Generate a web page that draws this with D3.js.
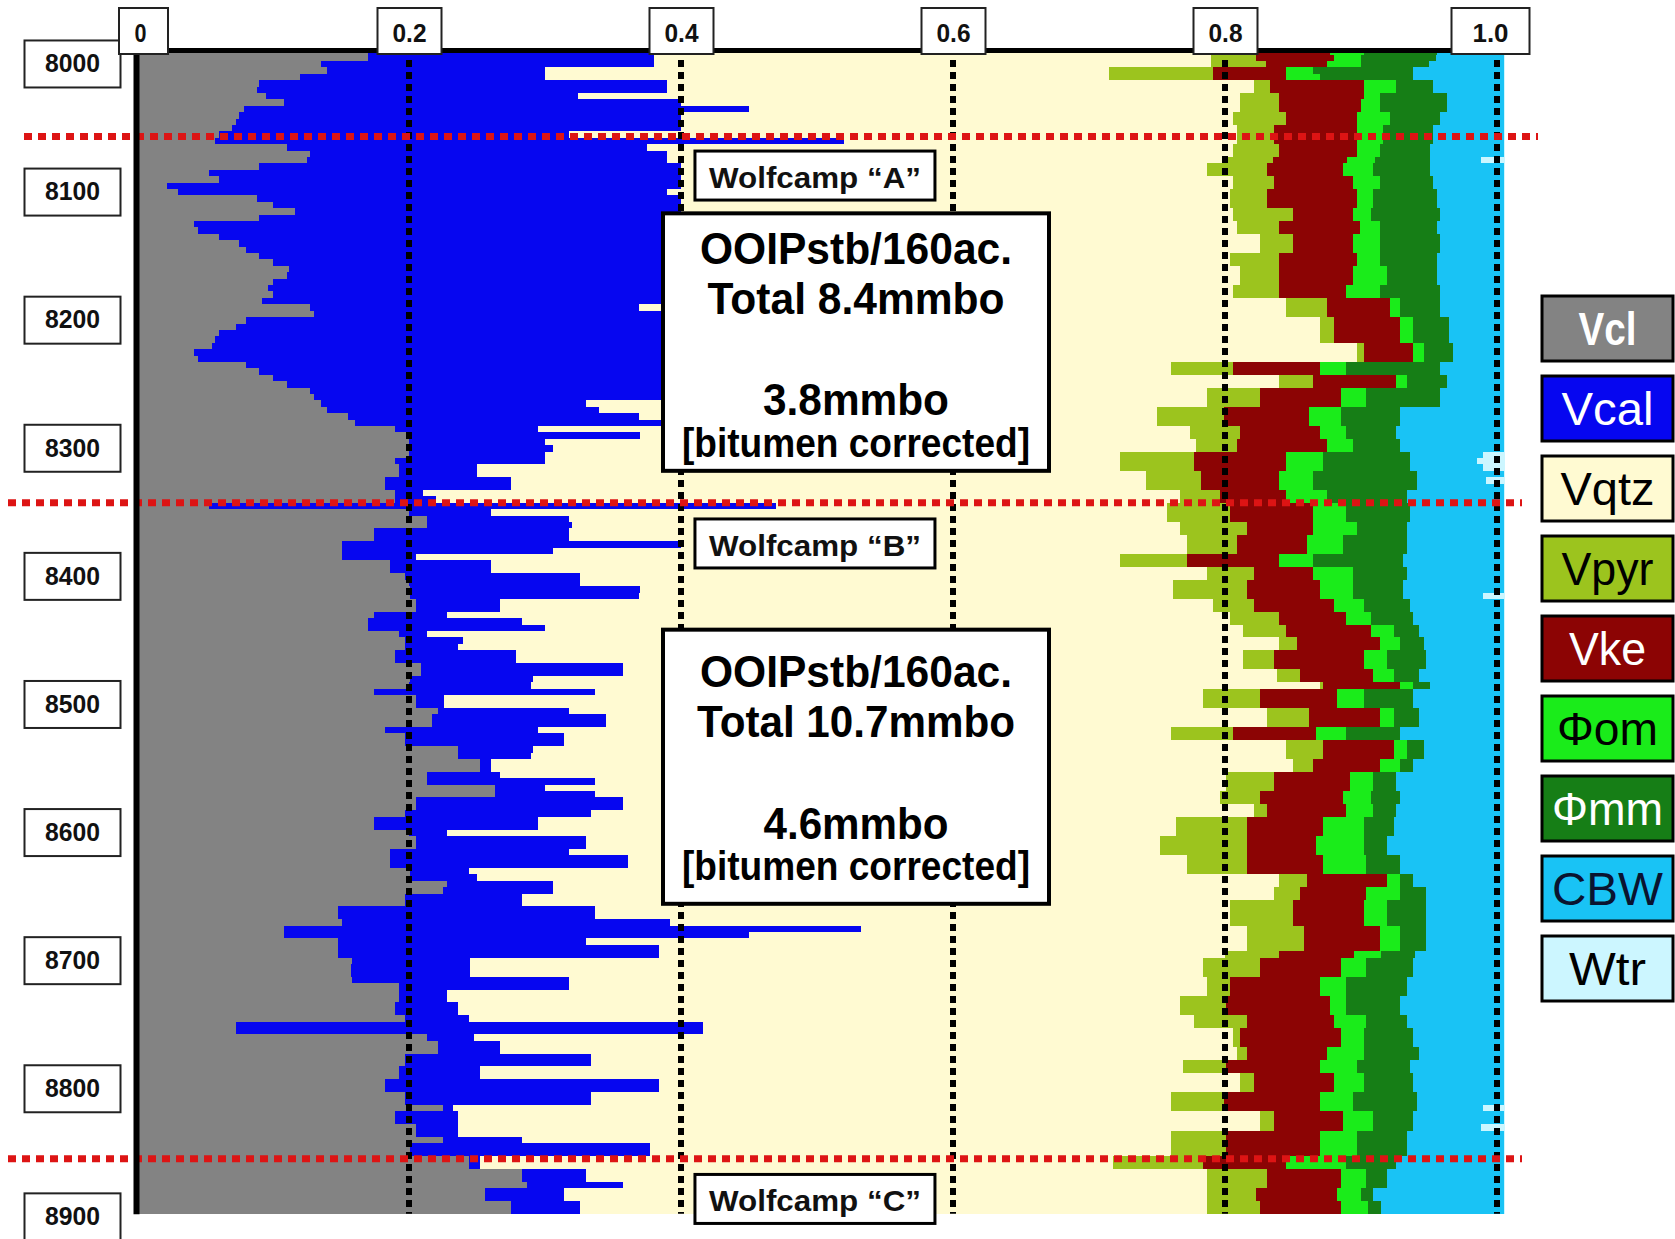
<!DOCTYPE html>
<html>
  <head>
    <meta charset="utf-8" />
    <title>Wolfcamp volumetric log</title>
    <script src="https://d3js.org/d3.v7.min.js"></script>
    <style>
      body { margin: 0; background: #fff; }
      svg text { font-family: "Liberation Sans", Arial, sans-serif; }
      .narrow { font-family: "Liberation Sans Narrow", "Arial Narrow", "Liberation Sans", sans-serif; font-weight: bold; }
    </style>
  </head>

  <body>
    <svg id="plot" width="1675" height="1239"></svg>

    <script>
      // samples every 5 ft starting at the top of the track
      const depthTop = 7988, depthStep = 5;

      // cumulative volume fractions (top of each component)
      const vclTop = [
        .17,.17,.135,.14,.12,.09,.088,.095,.108,.079,
        .075,.073,.07,.06,.057,.11,.127,.125,.09,.053,
        .06,.022,.03,.088,.10,.116,.09,.042,.045,.06,
        .075,.08,.09,.10,.112,.11,.10,.096,.10,.092,
        .127,.13,.08,.073,.06,.057,.055,.042,.045,.08,
        .09,.10,.11,.127,.13,.135,.14,.155,.16,.19,
        .20,.20,.20,.20,.19,.193,.193,.182,.182,.19,
        .19,.053,.20,.213,.213,.174,.174,.151,.151,.151,
        .186,.186,.197,.20,.201,.201,.205,.205,.174,.17,
        .17,.193,.197,.197,.19,.19,.209,.209,.201,.20,
        .174,.205,.205,.221,.217,.217,.182,.197,.197,.236,
        .236,.252,.252,.213,.213,.263,.263,.205,.205,.197,
        .174,.174,.20,.205,.205,.186,.186,.186,.201,.201,
        .228,.225,.197,.197,.148,.148,.151,.108,.108,.148,
        .148,.148,.158,.157,.157,.158,.193,.193,.193,.19,
        .19,.197,.073,.073,.213,.221,.221,.197,.197,.193,
        .193,.182,.182,.197,.197,.225,.19,.19,.205,.205,
        .225,.201,.201,.244,.244,.283,.283,.287,.256,.256,
        .275,.275
      ];
      const vcalTop = [
        .38,.38,.38,.30,.30,.39,.39,.324,.40,.45,
        .40,.40,.40,.318,.52,.375,.39,.39,.40,.40,
        .40,.40,.39,.40,.40,.40,.42,.42,.42,.42,
        .42,.42,.42,.42,.42,.42,.42,.42,.42,.42,
        .369,.42,.42,.42,.42,.42,.42,.42,.42,.42,
        .42,.42,.42,.42,.42,.33,.34,.369,.40,.295,
        .37,.30,.306,.30,.30,.25,.25,.275,.275,.21,
        .22,.47,.26,.318,.32,.318,.318,.40,.306,.205,
        .26,.26,.326,.326,.37,.369,.267,.267,.228,.283,
        .30,.213,.24,.236,.279,.279,.357,.357,.291,.29,
        .337,.226,.226,.318,.345,.345,.295,.314,.314,.291,
        .29,.26,.26,.267,.337,.30,.337,.357,.357,.334,
        .295,.295,.228,.33,.33,.318,.361,.361,.244,.25,
        .306,.306,.283,.283,.337,.337,.392,.532,.45,.33,
        .384,.384,.245,.245,.245,.318,.318,.228,.228,.236,
        .236,.244,.416,.416,.248,.267,.267,.334,.334,.252,
        .252,.384,.384,.334,.334,.232,.236,.236,.236,.236,
        .283,.377,.377,.252,.252,.33,.33,.357,.314,.314,
        .326,.326
      ];
      const vqtzTop = [
        .79,.79,.79,.715,.715,.821,.821,.811,.811,.811,
        .806,.806,.809,.809,.809,.806,.806,.80,.787,.787,
        .806,.806,.804,.804,.804,.806,.806,.809,.809,.826,
        .826,.826,.804,.804,.811,.811,.811,.806,.806,.845,
        .845,.845,.87,.87,.87,.87,.897,.897,.897,.76,
        .76,.84,.84,.787,.787,.787,.75,.75,.75,.774,
        .774,.779,.779,.723,.723,.723,.742,.742,.742,.767,
        .767,.757,.757,.757,.767,.767,.772,.772,.772,.723,
        .723,.787,.787,.762,.762,.762,.791,.791,.804,.804,
        .813,.813,.84,.84,.813,.813,.813,.838,.838,.87,
        .784,.784,.784,.831,.831,.831,.76,.76,.845,.845,
        .845,.85,.85,.801,.801,.801,.796,.796,.821,.821,
        .764,.764,.764,.752,.752,.752,.772,.772,.772,.84,
        .84,.836,.836,.804,.804,.804,.804,.816,.816,.816,
        .816,.80,.784,.784,.784,.787,.787,.787,.767,.767,
        .767,.777,.777,.806,.806,.806,.809,.809,.769,.769,
        .811,.811,.811,.76,.76,.76,.826,.826,.826,.76,
        .76,.76,.76,.718,.718,.787,.787,.787,.787,.787,
        .787,.787
      ];
      const vpyrTop = [
        .823,.823,.83,.791,.791,.833,.833,.84,.84,.84,
        .845,.845,.836,.836,.836,.84,.84,.835,.831,.831,
        .836,.836,.831,.831,.831,.85,.85,.84,.84,.85,
        .85,.85,.84,.84,.84,.84,.84,.84,.84,.875,
        .875,.875,.88,.88,.88,.88,.902,.902,.902,.806,
        .806,.865,.865,.826,.826,.826,.799,.799,.799,.811,
        .811,.809,.809,.777,.777,.777,.782,.782,.782,.796,
        .796,.804,.804,.804,.816,.816,.809,.809,.809,.772,
        .772,.821,.821,.816,.816,.816,.821,.821,.84,.84,
        .845,.845,.853,.853,.836,.836,.836,.855,.855,.872,
        .826,.826,.826,.862,.862,.862,.806,.806,.872,.872,
        .872,.865,.865,.836,.836,.836,.826,.826,.831,.831,
        .816,.816,.816,.816,.816,.816,.816,.816,.816,.86,
        .86,.855,.855,.85,.85,.85,.85,.858,.858,.858,
        .858,.84,.826,.826,.826,.804,.804,.804,.801,.801,
        .801,.816,.816,.811,.811,.811,.816,.816,.801,.801,
        .821,.821,.821,.799,.799,.799,.836,.836,.836,.801,
        .801,.801,.801,.784,.784,.831,.831,.831,.823,.823,
        .826,.826
      ];
      const vkeTop = [
        .877,.88,.875,.845,.845,.902,.902,.902,.90,.90,
        .897,.897,.897,.897,.897,.897,.897,.89,.887,.887,
        .894,.894,.897,.897,.897,.894,.894,.899,.899,.894,
        .894,.894,.897,.897,.894,.894,.894,.889,.889,.921,
        .921,.921,.929,.929,.929,.929,.938,.938,.938,.87,
        .87,.926,.926,.885,.885,.885,.862,.862,.862,.87,
        .87,.875,.875,.845,.845,.845,.84,.84,.84,.845,
        .845,.865,.865,.865,.865,.865,.86,.86,.86,.84,
        .84,.865,.865,.87,.87,.87,.88,.88,.889,.889,
        .907,.907,.914,.914,.902,.902,.902,.909,.909,.929,
        .882,.882,.882,.914,.914,.914,.867,.867,.924,.924,
        .924,.914,.914,.892,.892,.892,.887,.887,.889,.889,
        .872,.872,.872,.867,.867,.867,.872,.872,.872,.919,
        .919,.904,.904,.902,.902,.902,.902,.914,.914,.914,
        .914,.895,.885,.885,.885,.87,.87,.87,.877,.877,
        .877,.88,.88,.885,.885,.885,.875,.875,.87,.87,
        .88,.88,.88,.87,.87,.87,.887,.887,.887,.87,
        .87,.87,.87,.845,.845,.885,.885,.885,.882,.882,
        .885,.885
      ];
      const phiOmTop = [
        .902,.90,.90,.865,.87,.926,.926,.914,.914,.914,
        .921,.921,.916,.916,.916,.914,.914,.91,.909,.909,
        .914,.914,.909,.909,.909,.907,.907,.914,.914,.914,
        .914,.914,.914,.914,.919,.919,.919,.914,.914,.929,
        .929,.929,.938,.938,.938,.938,.946,.946,.946,.889,
        .889,.934,.934,.904,.904,.904,.885,.885,.885,.889,
        .889,.894,.894,.872,.872,.872,.865,.865,.865,.875,
        .875,.889,.889,.889,.897,.897,.887,.887,.887,.865,
        .865,.894,.894,.894,.894,.894,.902,.902,.907,.907,
        .924,.924,.929,.929,.919,.919,.919,.924,.924,.938,
        .902,.902,.902,.924,.924,.924,.889,.889,.934,.934,
        .934,.929,.929,.909,.909,.909,.907,.907,.909,.909,
        .902,.902,.902,.902,.902,.902,.904,.904,.904,.929,
        .929,.929,.929,.919,.919,.919,.919,.929,.929,.929,
        .929,.915,.904,.904,.904,.889,.889,.889,.889,.889,
        .889,.904,.904,.902,.902,.902,.902,.902,.897,.897,
        .902,.902,.902,.894,.894,.894,.909,.909,.909,.897,
        .897,.897,.897,.889,.889,.904,.904,.904,.90,.90,
        .905,.905
      ];
      const phiMmTop = [
        .956,.955,.95,.938,.938,.953,.953,.963,.963,.963,
        .958,.958,.953,.953,.953,.951,.951,.951,.951,.951,
        .953,.953,.956,.956,.956,.958,.958,.956,.956,.958,
        .958,.958,.956,.956,.956,.956,.956,.958,.958,.958,
        .958,.958,.965,.965,.965,.965,.968,.968,.968,.958,
        .958,.963,.963,.958,.958,.958,.929,.929,.929,.926,
        .926,.929,.929,.936,.936,.936,.941,.941,.941,.934,
        .934,.936,.936,.936,.934,.934,.934,.934,.934,.931,
        .931,.934,.934,.931,.931,.931,.936,.936,.938,.938,
        .943,.943,.946,.946,.948,.948,.948,.943,.943,.951,
        .938,.938,.938,.943,.943,.943,.929,.929,.946,.946,
        .946,.938,.938,.926,.926,.926,.929,.929,.926,.926,
        .924,.924,.924,.919,.919,.919,.929,.929,.929,.938,
        .938,.948,.948,.948,.948,.948,.948,.948,.948,.948,
        .948,.94,.938,.938,.938,.934,.934,.934,.929,.929,
        .929,.934,.934,.938,.938,.938,.943,.943,.936,.936,
        .938,.938,.938,.941,.941,.941,.938,.938,.938,.934,
        .934,.934,.934,.926,.926,.919,.919,.919,.909,.909,
        .915,.915
      ];
      const cbwTop = [
        1.005,1.005,1.005,1.005,1.005,1.005,1.005,1.005,1.005,1.005,
        1.005,1.005,1.005,1.005,1.005,1.005,1.005,.988,1.005,1.005,
        1.005,1.005,1.005,1.005,1.005,1.005,1.005,1.005,1.005,1.005,
        1.005,1.005,1.005,1.005,1.005,1.005,1.005,1.005,1.005,1.005,
        1.005,1.005,1.005,1.005,1.005,1.005,1.005,1.005,1.005,1.005,
        1.005,1.005,1.005,1.005,1.005,1.005,1.005,1.005,1.005,1.005,
        1.005,1.005,1.005,.99,.985,.99,1.005,.992,1.005,1.005,
        1.005,1.005,1.005,1.005,1.005,1.005,1.005,1.005,1.005,1.005,
        1.005,1.005,1.005,1.005,1.005,.99,1.005,1.005,1.005,1.005,
        1.005,1.005,1.005,1.005,1.005,1.005,1.005,1.005,1.005,1.005,
        1.005,1.005,1.005,1.005,1.005,1.005,1.005,1.005,1.005,1.005,
        1.005,1.005,1.005,1.005,1.005,1.005,1.005,1.005,1.005,1.005,
        1.005,1.005,1.005,1.005,1.005,1.005,1.005,1.005,1.005,1.005,
        1.005,1.005,1.005,1.005,1.005,1.005,1.005,1.005,1.005,1.005,
        1.005,1.005,1.005,1.005,1.005,1.005,1.005,1.005,1.005,1.005,
        1.005,1.005,1.005,1.005,1.005,1.005,1.005,1.005,1.005,1.005,
        1.005,1.005,1.005,1.005,1.005,.99,1.005,1.005,.988,1.005,
        1.005,1.005,1.005,1.005,1.005,1.005,1.005,1.005,1.005,1.005,
        1.005,1.005
      ];
      // right edge of the plotted track
      const trackEnd = 1.006;

      const layerNames = ["Vcl", "Vcal", "Vqtz", "Vpyr", "Vke", "\u03A6om", "\u03A6mm", "CBW", "Wtr"];
      const layerColors = ["#838383", "#0606f0", "#fffad2", "#9cc41e", "#8c0404", "#1aec1a", "#167e16", "#19c3f5", "#ccf6ff"];
      const legendTextColors = ["#fff", "#fff", "#000", "#000", "#fff", "#000", "#fff", "#0a1430", "#000"];

      const xTicks = [0, 0.2, 0.4, 0.6, 0.8, 1.0];
      const xTickLabels = ["0", "0.2", "0.4", "0.6", "0.8", "1.0"];
      const depthTicks = [8000, 8100, 8200, 8300, 8400, 8500, 8600, 8700, 8800, 8900];

      const zoneTops = [8057, 8343, 8855];
      const zoneNames = ["Wolfcamp \u201CA\u201D", "Wolfcamp \u201CB\u201D", "Wolfcamp \u201CC\u201D"];
      const zoneLabelDepths = [8087.5, 8374.7, 8886.4];

      const noteLines = [
        ["OOIPstb/160ac.", "Total 8.4mmbo", "3.8mmbo", "[bitumen corrected]"],
        ["OOIPstb/160ac.", "Total 10.7mmbo", "4.6mmbo", "[bitumen corrected]"]
      ];
      const noteDepths = [[8117, 8318], [8442, 8656]];

      // layout
      const noteBaselines = [[51, 101, 202, 244], [57, 107, 209, 250]];
      const noteWidths = [[312, 297, 186, 348], [312, 318, 185, 348]];
      const noteSizes = [44, 44, 44, 40];
      const tickBoxW = [49, 64, 64, 64, 64, 78];
      const tickShift = [6, 0, 0, 0, 0, -7];
      const tickTextW = [12, 34, 34, 34, 34, 36];
      const legendTextW = [58, 92, 94, 92, 77, 101, 111, 111, 77];
      const topLineSpan = [[24, 1538], [8, 1522], [8, 1522]];

      const svg = d3.select("#plot");
      svg.append("rect").attr("width", 1675).attr("height", 1239).attr("fill", "#fff");

      const x = d3.scaleLinear().domain([0, 1]).range([137, 1497]);
      const y = d3.scaleLinear().domain([7988, 8898]).range([48.1, 1213.8]);

      const bounds = [vclTop, vcalTop, vqtzTop, vpyrTop, vkeTop, phiOmTop, phiMmTop, cbwTop];
      const rows = vclTop.map((_, i) => ({
        depth: depthTop + i * depthStep,
        b: [0].concat(bounds.map((s) => s[i]), [trackEnd])
      }));
      // close the last sample interval
      rows.push({ depth: depthTop + rows.length * depthStep, b: rows[rows.length - 1].b });

      const area = (k) =>
        d3.area()
          .curve(d3.curveStepBefore)
          .y((d) => y(d.depth))
          .x0((d) => x(d.b[k]))
          .x1((d) => x(d.b[k + 1]));

      svg.append("g")
        .selectAll("path")
        .data(layerNames)
        .join("path")
        .attr("d", (n, k) => area(k)(rows))
        .attr("fill", (n, k) => layerColors[k])
        .attr("shape-rendering", "crispEdges");

      // dotted grid lines
      svg.append("g")
        .selectAll("line")
        .data(xTicks.slice(1))
        .join("line")
        .attr("x1", (d) => x(d))
        .attr("x2", (d) => x(d))
        .attr("y1", y(7988))
        .attr("y2", y(8898))
        .attr("stroke", "#000")
        .attr("stroke-width", 6)
        .attr("stroke-dasharray", "7,5");

      // formation tops
      svg.append("g")
        .selectAll("line")
        .data(zoneTops)
        .join("line")
        .attr("x1", (d, i) => topLineSpan[i][0])
        .attr("x2", (d, i) => topLineSpan[i][1])
        .attr("y1", (d) => y(d))
        .attr("y2", (d) => y(d))
        .attr("stroke", "#dd1414")
        .attr("stroke-width", 7)
        .attr("stroke-dasharray", "8,6");

      // depth axis
      const leftAxis = svg.append("g")
        .attr("transform", "translate(136,0)")
        .call(d3.axisLeft(y).tickValues(depthTicks).tickFormat(d3.format("d")).tickSize(0).tickSizeOuter(0).tickPadding(0));
      leftAxis.select(".domain").attr("stroke", "#000").attr("stroke-width", 6);
      leftAxis.selectAll(".tick").each(function () {
        const g = d3.select(this);
        g.insert("rect", "text")
          .attr("x", -111.5).attr("y", -23.5)
          .attr("width", 96).attr("height", 47)
          .attr("fill", "#fff").attr("stroke", "#222").attr("stroke-width", 2);
        g.select("text")
          .attr("class", "narrow")
          .attr("x", -63.5)
          .attr("text-anchor", "middle")
          .attr("font-size", 26)
          .attr("fill", "#111")
          .attr("textLength", 55)
          .attr("lengthAdjust", "spacingAndGlyphs");
      });

      // value axis on top
      const topAxis = svg.append("g")
        .attr("transform", "translate(0,50)")
        .call(d3.axisTop(x).tickValues(xTicks).tickFormat((d, i) => xTickLabels[i]).tickSize(0).tickSizeOuter(0).tickPadding(0));
      topAxis.select(".domain").attr("stroke", "#000").attr("stroke-width", 5);
      topAxis.selectAll(".tick").each(function (d, i) {
        const g = d3.select(this);
        g.insert("rect", "text")
          .attr("x", tickShift[i] - tickBoxW[i] / 2).attr("y", -42)
          .attr("width", tickBoxW[i]).attr("height", 46)
          .attr("fill", "#fff").attr("stroke", "#222").attr("stroke-width", 2);
        g.select("text")
          .attr("class", "narrow")
          .attr("x", tickShift[i] - (i === 0 ? 3 : 0))
          .attr("y", -8)
          .attr("dy", null)
          .attr("font-size", 26)
          .attr("fill", "#111")
          .attr("textLength", tickTextW[i])
          .attr("lengthAdjust", "spacingAndGlyphs");
      });

      // zone labels
      const zones = svg.append("g")
        .selectAll("g")
        .data(zoneNames)
        .join("g")
        .attr("transform", (d, i) => `translate(${x(0.4985)},${y(zoneLabelDepths[i])})`);
      zones.append("rect")
        .attr("x", -120).attr("y", -24.5)
        .attr("width", 240).attr("height", 49)
        .attr("fill", "#fff").attr("stroke", "#000").attr("stroke-width", 3);
      zones.append("text")
        .attr("class", "narrow")
        .attr("text-anchor", "middle")
        .attr("y", 12.5)
        .attr("font-size", 30)
        .attr("fill", "#111")
        .attr("textLength", 212)
        .attr("lengthAdjust", "spacingAndGlyphs")
        .text((d) => d);

      // OOIP notes
      const notes = svg.append("g")
        .selectAll("g")
        .data(noteLines)
        .join("g")
        .attr("transform", (d, i) => `translate(0,${y(noteDepths[i][0])})`);
      notes.append("rect")
        .attr("x", 663).attr("y", 0)
        .attr("width", 386)
        .attr("height", (d, i) => y(noteDepths[i][1]) - y(noteDepths[i][0]))
        .attr("fill", "#fff").attr("stroke", "#000").attr("stroke-width", 4);
      notes.each(function (lines, i) {
        d3.select(this)
          .selectAll("text")
          .data(lines)
          .join("text")
          .attr("x", 856)
          .attr("y", (t, j) => noteBaselines[i][j])
          .attr("text-anchor", "middle")
          .attr("font-weight", "bold")
          .attr("font-size", (t, j) => noteSizes[j])
          .attr("fill", "#000")
          .attr("textLength", (t, j) => noteWidths[i][j])
          .attr("lengthAdjust", "spacingAndGlyphs")
          .text((t) => t);
      });

      // legend
      const legend = svg.append("g")
        .selectAll("g")
        .data(layerNames)
        .join("g")
        .attr("transform", (d, i) => `translate(1542,${296 + i * 80})`);
      legend.append("rect")
        .attr("width", 131).attr("height", 65)
        .attr("fill", (d, i) => layerColors[i])
        .attr("stroke", "#000").attr("stroke-width", 3);
      legend.append("text")
        .attr("x", 65.5).attr("y", 49)
        .attr("text-anchor", "middle")
        .attr("font-size", 46)
        .attr("font-weight", (d, i) => (i === 0 ? "bold" : "normal"))
        .attr("fill", (d, i) => legendTextColors[i])
        .attr("textLength", (d, i) => legendTextW[i])
        .attr("lengthAdjust", "spacingAndGlyphs")
        .text((d) => d);
    </script>
  </body>
</html>
